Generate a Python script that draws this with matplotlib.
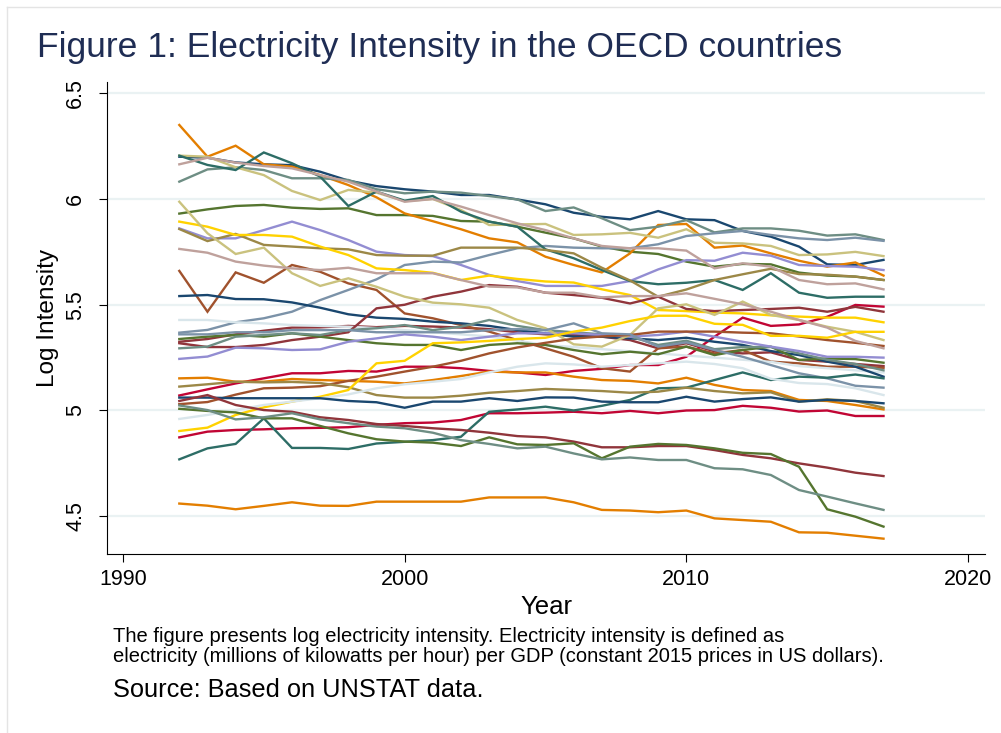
import matplotlib
matplotlib.use("Agg")
import matplotlib.pyplot as plt
from matplotlib.lines import Line2D

plt.rcParams['font.family'] = ['Liberation Sans', 'DejaVu Sans']

# Data: log electricity intensity, one list per country (1992-2017)
years = list(range(1992, 2018))

navy_a = [6.20, 6.195, 6.173, 6.164, 6.16, 6.129, 6.087, 6.061, 6.046, 6.035,
          6.019, 6.019, 5.998, 5.975, 5.935, 5.916, 5.904, 5.943, 5.904,
          5.90, 5.849, 5.822, 5.775, 5.691, 5.688, 5.712]
maroon_a = [5.325, 5.338, 5.36, 5.377, 5.392, 5.393, 5.40, 5.394, 5.40, 5.397,
            5.392, 5.385, 5.37, 5.36, 5.357, 5.349, 5.333, 5.294, 5.318,
            5.28, 5.27, 5.275, 5.239, 5.231, 5.22, 5.21]
forest_a = [5.931, 5.951, 5.967, 5.972, 5.959, 5.953, 5.956, 5.924, 5.924, 5.92,
            5.896, 5.893, 5.869, 5.841, 5.814, 5.775, 5.751, 5.74, 5.704,
            5.68, 5.693, 5.691, 5.652, 5.638, 5.633, 5.617]
orange_a = [6.35, 6.20, 6.252, 6.164, 6.153, 6.113, 6.066, 6.008, 5.932, 5.895,
            5.857, 5.814, 5.795, 5.727, 5.688, 5.653, 5.743, 5.877, 5.882,
            5.77, 5.78, 5.743, 5.708, 5.68, 5.70, 5.638]
teal_a = [6.082, 6.14, 6.15, 6.137, 6.098, 6.098, 6.09, 6.046, 6.027, 6.035,
          6.03, 6.014, 5.998, 5.943, 5.96, 5.909, 5.853, 5.869, 5.90,
          5.842, 5.861, 5.861, 5.85, 5.827, 5.833, 5.806]
cranberry_a = [5.071, 5.10, 5.128, 5.152, 5.176, 5.176, 5.187, 5.184, 5.207, 5.207,
               5.20, 5.187, 5.18, 5.168, 5.187, 5.197, 5.215, 5.215, 5.254,
               5.349, 5.439, 5.40, 5.407, 5.443, 5.499, 5.491]
lavender_a = [5.861, 5.814, 5.814, 5.853, 5.893, 5.853, 5.806, 5.751, 5.735, 5.73,
              5.688, 5.641, 5.612, 5.589, 5.589, 5.589, 5.612, 5.667, 5.711,
              5.708, 5.746, 5.732, 5.688, 5.683, 5.68, 5.664]
khaki_a = [6.205, 6.20, 6.15, 6.113, 6.038, 5.995, 6.043, 6.03, 5.99, 6.0,
           5.948, 5.877, 5.88, 5.882, 5.83, 5.833, 5.84, 5.817, 5.857,
           5.793, 5.79, 5.778, 5.735, 5.738, 5.75, 5.73]
sienna_a = [5.66, 5.467, 5.653, 5.604, 5.688, 5.656, 5.601, 5.57, 5.459, 5.436,
            5.404, 5.373, 5.333, 5.294, 5.254, 5.20, 5.184, 5.294, 5.302,
            5.27, 5.286, 5.231, 5.223, 5.207, 5.207, 5.202]
emidblue_a = [5.368, 5.381, 5.417, 5.436, 5.467, 5.522, 5.57, 5.62, 5.688, 5.704,
              5.70, 5.735, 5.767, 5.778, 5.77, 5.767, 5.767, 5.786, 5.825,
              5.838, 5.849, 5.83, 5.814, 5.806, 5.817, 5.802]
emerald_a = [6.205, 6.161, 6.137, 6.22, 6.169, 6.106, 5.967, 6.035, 5.992, 6.014,
             5.94, 5.893, 5.869, 5.762, 5.72, 5.664, 5.612, 5.597, 5.604,
             5.617, 5.57, 5.649, 5.557, 5.533, 5.538, 5.538]
brown_a = [5.858, 5.801, 5.835, 5.783, 5.775, 5.767, 5.762, 5.735, 5.732, 5.732,
           5.77, 5.77, 5.77, 5.759, 5.743, 5.675, 5.615, 5.538, 5.572,
           5.617, 5.644, 5.67, 5.645, 5.642, 5.633, 5.617]
erose_a = [6.164, 6.195, 6.172, 6.156, 6.145, 6.113, 6.082, 6.035, 5.987, 6.0,
           5.964, 5.924, 5.885, 5.853, 5.814, 5.778, 5.767, 5.767, 5.756,
           5.672, 5.696, 5.68, 5.617, 5.597, 5.601, 5.573]
gold_a = [5.893, 5.869, 5.83, 5.83, 5.822, 5.775, 5.735, 5.672, 5.664, 5.651,
          5.617, 5.638, 5.622, 5.61, 5.605, 5.573, 5.546, 5.475, 5.47,
          5.463, 5.459, 5.45, 5.444, 5.439, 5.439, 5.417]
bluishgray_a = [5.428, 5.428, 5.417, 5.412, 5.404, 5.40, 5.396, 5.39, 5.38, 5.37,
                5.36, 5.35, 5.33, 5.31, 5.30, 5.29, 5.28, 5.27, 5.26,
                5.25, 5.24, 5.23, 5.21, 5.20, 5.19, 5.18]

navy_b = [5.541, 5.546, 5.527, 5.526, 5.511, 5.486, 5.455, 5.439, 5.433, 5.42,
          5.412, 5.40, 5.38, 5.365, 5.349, 5.349, 5.341, 5.333, 5.344,
          5.325, 5.31, 5.281, 5.262, 5.231, 5.207, 5.16]
maroon_b = [5.318, 5.30, 5.30, 5.31, 5.333, 5.349, 5.37, 5.483, 5.50, 5.538,
            5.562, 5.593, 5.585, 5.557, 5.546, 5.533, 5.506, 5.538, 5.48,
            5.47, 5.475, 5.48, 5.486, 5.467, 5.49, 5.467]
forest_b = [5.338, 5.349, 5.357, 5.349, 5.365, 5.349, 5.333, 5.318, 5.31, 5.31,
            5.286, 5.31, 5.318, 5.31, 5.286, 5.266, 5.278, 5.266, 5.302,
            5.262, 5.286, 5.302, 5.239, 5.246, 5.243, 5.226]
orange_b = [5.152, 5.155, 5.136, 5.136, 5.149, 5.144, 5.14, 5.136, 5.128, 5.144,
            5.163, 5.184, 5.18, 5.18, 5.16, 5.144, 5.14, 5.128, 5.155,
            5.121, 5.097, 5.092, 5.05, 5.045, 5.026, 5.005]
teal_b = [5.294, 5.302, 5.349, 5.357, 5.365, 5.357, 5.38, 5.389, 5.404, 5.38,
          5.396, 5.428, 5.40, 5.38, 5.37, 5.36, 5.35, 5.31, 5.33,
          5.29, 5.30, 5.30, 5.27, 5.24, 5.22, 5.19]
cranberry_b = [4.873, 4.90, 4.908, 4.911, 4.916, 4.918, 4.921, 4.932, 4.94, 4.943,
               4.955, 4.987, 4.987, 4.99, 4.994, 4.987, 4.998, 4.987, 5.0,
               5.002, 5.022, 5.013, 4.995, 5.0, 4.974, 4.974]
lavender_b = [5.244, 5.255, 5.297, 5.294, 5.286, 5.289, 5.325, 5.341, 5.36, 5.349,
              5.333, 5.349, 5.365, 5.365, 5.365, 5.357, 5.349, 5.357, 5.373,
              5.349, 5.325, 5.302, 5.281, 5.254, 5.254, 5.25]
khaki_b = [5.987, 5.838, 5.74, 5.77, 5.649, 5.589, 5.625, 5.585, 5.538, 5.51,
           5.502, 5.486, 5.428, 5.389, 5.313, 5.302, 5.357, 5.483, 5.502,
           5.452, 5.515, 5.452, 5.428, 5.396, 5.372, 5.333]
sienna_b = [5.03, 5.04, 5.075, 5.105, 5.108, 5.115, 5.14, 5.16, 5.184, 5.207,
            5.235, 5.27, 5.298, 5.32, 5.34, 5.35, 5.357, 5.373, 5.373,
            5.373, 5.368, 5.365, 5.35, 5.333, 5.32, 5.305]
emidblue_b = [5.36, 5.36, 5.37, 5.37, 5.38, 5.38, 5.38, 5.37, 5.37, 5.37,
              5.37, 5.38, 5.385, 5.38, 5.412, 5.365, 5.36, 5.302, 5.322,
              5.286, 5.254, 5.215, 5.176, 5.152, 5.117, 5.108]
emerald_b = [4.769, 4.821, 4.842, 4.963, 4.823, 4.823, 4.818, 4.844, 4.852, 4.86,
             4.876, 4.994, 5.005, 5.018, 5.0, 5.022, 5.05, 5.105, 5.108,
             5.144, 5.18, 5.144, 5.16, 5.155, 5.17, 5.152]
brown_b = [5.113, 5.124, 5.136, 5.133, 5.135, 5.13, 5.11, 5.073, 5.061, 5.061,
           5.07, 5.084, 5.092, 5.102, 5.097, 5.092, 5.084, 5.089, 5.108,
           5.092, 5.081, 5.086, 5.042, 5.053, 5.045, 5.013]
erose_b = [5.764, 5.746, 5.704, 5.685, 5.672, 5.664, 5.675, 5.649, 5.649, 5.649,
           5.617, 5.586, 5.582, 5.557, 5.557, 5.535, 5.541, 5.541, 5.554,
           5.528, 5.502, 5.467, 5.428, 5.392, 5.329, 5.294]
gold_b = [4.903, 4.919, 4.979, 5.015, 5.042, 5.065, 5.097, 5.223, 5.235, 5.318,
          5.322, 5.329, 5.338, 5.344, 5.373, 5.392, 5.423, 5.448, 5.448,
          5.41, 5.405, 5.353, 5.353, 5.344, 5.372, 5.372]
bluishgray_b = [4.96, 4.979, 5.002, 5.026, 5.042, 5.058, 5.076, 5.105, 5.124, 5.136,
                5.149, 5.18, 5.207, 5.223, 5.218, 5.207, 5.215, 5.223, 5.231,
                5.22, 5.20, 5.15, 5.13, 5.125, 5.105, 5.073]

navy_c = [5.061, 5.061, 5.058, 5.058, 5.058, 5.058, 5.045, 5.039, 5.013, 5.042,
          5.042, 5.058, 5.045, 5.062, 5.061, 5.042, 5.039, 5.039, 5.065,
          5.042, 5.054, 5.062, 5.042, 5.05, 5.045, 5.034]
maroon_c = [5.045, 5.073, 5.026, 5.002, 4.994, 4.968, 4.955, 4.936, 4.927, 4.916,
            4.908, 4.895, 4.879, 4.873, 4.853, 4.826, 4.826, 4.832, 4.832,
            4.813, 4.79, 4.774, 4.75, 4.73, 4.706, 4.69]
forest_c = [5.008, 4.998, 4.991, 4.963, 4.963, 4.927, 4.892, 4.864, 4.853, 4.848,
            4.832, 4.873, 4.84, 4.837, 4.845, 4.774, 4.829, 4.842, 4.837,
            4.821, 4.80, 4.794, 4.734, 4.533, 4.498, 4.451]
orange_c = [4.56, 4.55, 4.533, 4.549, 4.566, 4.55, 4.549, 4.569, 4.569, 4.569,
            4.569, 4.589, 4.589, 4.589, 4.566, 4.53, 4.527, 4.519, 4.527,
            4.49, 4.482, 4.474, 4.424, 4.422, 4.408, 4.394]
teal_c = [5.024, 5.002, 4.958, 4.968, 4.987, 4.958, 4.94, 4.924, 4.916, 4.895,
          4.86, 4.842, 4.821, 4.829, 4.797, 4.769, 4.778, 4.766, 4.766,
          4.727, 4.722, 4.695, 4.624, 4.593, 4.561, 4.53]

# Stata s2color palette, cycled over the countries
palette = ['#1a476f', '#90353b', '#55752f', '#e37e00', '#6e8e84',
           '#c10534', '#938dd2', '#cac27e', '#a0522d', '#7b92a8',
           '#2d6d66', '#9c8847', '#bfa19c', '#ffd200', '#d9e6eb']

series = [navy_a, maroon_a, forest_a, orange_a, teal_a, cranberry_a, lavender_a,
          khaki_a, sienna_a, emidblue_a, emerald_a, brown_a, erose_a, gold_a,
          bluishgray_a,
          navy_b, maroon_b, forest_b, orange_b, teal_b, cranberry_b, lavender_b,
          khaki_b, sienna_b, emidblue_b, emerald_b, brown_b, erose_b, gold_b,
          bluishgray_b,
          navy_c, maroon_c, forest_c, orange_c, teal_c]

yticks = [4.5, 5, 5.5, 6, 6.5]
ytick_labels = ['4.5', '5', '5.5', '6', '6.5']
xticks = [1990, 2000, 2010, 2020]

title = 'Figure 1: Electricity Intensity in the OECD countries'
note_1 = ('The figure presents log electricity intensity. '
          'Electricity intensity is defined as')
note_2 = ('electricity (millions of kilowatts per hour) per GDP '
          '(constant 2015 prices in US dollars).')
source = 'Source: Based on UNSTAT data.'

W, H = 1001, 733
fig = plt.figure(figsize=(W / 100, H / 100), dpi=100)
ax = fig.add_axes([107 / W, 1 - 554 / H, (985 - 107) / W, (554 - 82) / H])

for y in yticks:
    ax.axhline(y, color='#eaf2f3', lw=1.6, zorder=0)

for i, vals in enumerate(series):
    ax.plot(years, vals, color=palette[i % len(palette)], lw=1.7,
            solid_joinstyle='miter')

ax.set_xlim(1989.433, 2020.603)
ax.set_ylim(4.3215, 6.5532)
ax.set_xticks(xticks)
ax.set_yticks(yticks)
ax.set_yticklabels(ytick_labels, rotation=90, va='center')
ax.tick_params(axis='both', length=6, width=0.8, colors='black', labelsize=15.5)
ax.tick_params(axis='y', pad=9)
ax.tick_params(axis='x', pad=5)
for side in ['top', 'right']:
    ax.spines[side].set_visible(False)
for side in ['left', 'bottom']:
    ax.spines[side].set_linewidth(0.8)

# Titles and notes
fig.text(37 / W, 1 - 48 / H, title, fontsize=25.5, color='#1f2d54', va='center')
fig.text(48 / W, 1 - 318 / H, 'Log Intensity', rotation=90, fontsize=17.6,
         ha='center', va='center')
fig.text(546 / W, 1 - 607 / H, 'Year', fontsize=18.5, ha='center', va='center')
fig.text(113 / W, 1 - 637 / H, note_1, fontsize=14.5, va='center')
fig.text(113 / W, 1 - 657 / H, note_2, fontsize=14.5, va='center')
fig.text(113 / W, 1 - 690 / H, source, fontsize=18.3, va='center')

# faint outer frame
fig.add_artist(Line2D([7 / W, 7 / W], [0, 1 - 7 / H], color='#e4e4e4', lw=1))
fig.add_artist(Line2D([7 / W, 1], [1 - 7 / H, 1 - 7 / H], color='#e4e4e4', lw=1))

fig.savefig('out.png', dpi=100)
